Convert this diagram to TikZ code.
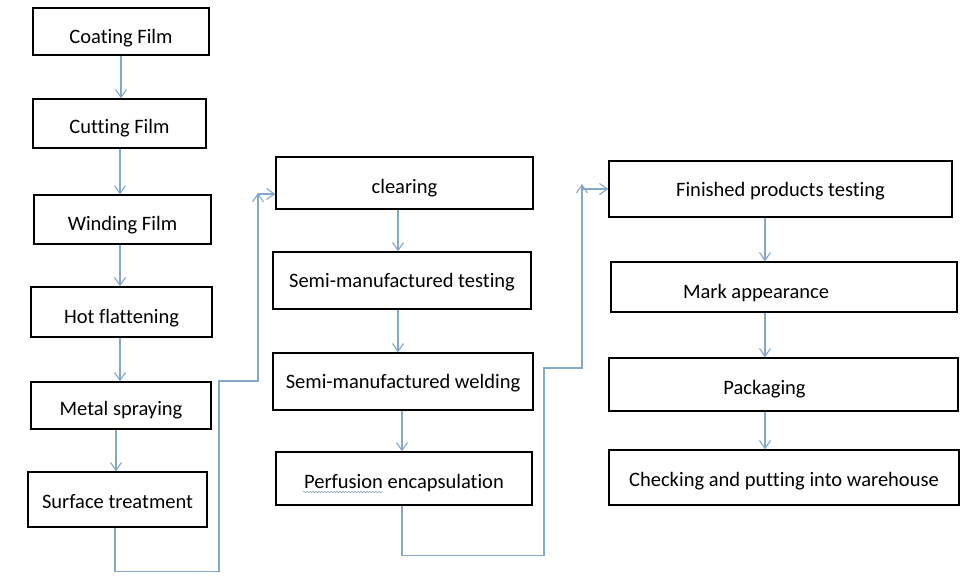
\documentclass[tikz,border=0pt]{standalone}
\usepackage{fontspec}
\setmainfont{Carlito}[Ligatures={NoCommon}]
\usetikzlibrary{arrows.meta,decorations.pathmorphing}
\definecolor{connc}{HTML}{84A7CC}
\definecolor{waveC}{HTML}{8FA0C0}
\begin{document}
\begin{tikzpicture}[x=1pt,y=-1pt,
  box/.style={draw=black,line width=1.2pt,inner sep=0pt,text depth=5pt,font=\fontsize{20.5}{24}\selectfont},
  th/.style={text height=#1pt},
  flow/.style={draw=connc,line width=1.2pt,-{Straight Barb[length=8pt,width=11pt,line width=1.1pt]}},
]
\useasboundingbox (0,0) rectangle (979,584);
% column 1
\node[box,th=28,minimum width=176pt,minimum height=47pt] (A) at (121,31.5) {Coating Film};
\node[box,th=24,minimum width=173pt,minimum height=49pt] (B) at (119.5,123.5) {Cutting Film};
\node[box,th=26,minimum width=177pt,minimum height=49pt] (C) at (122.5,219.5) {Winding Film};
\node[box,th=27,minimum width=181pt,minimum height=50pt] (D) at (121.5,312) {Hot flattening};
\node[box,th=24,minimum width=180pt,minimum height=47pt] (E) at (121,405.5) {Metal spraying};
\node[box,th=22,minimum width=179pt,minimum height=55pt] (F) at (117.5,499.5) {Surface treatment};
% column 2
\node[box,th=25,minimum width=257pt,minimum height=52pt] (G) at (404.5,183) {clearing};
\node[box,th=18,minimum width=258pt,minimum height=57pt] (H) at (402,280.5) {Semi-manufactured testing};
\node[box,th=18,minimum width=260pt,minimum height=57pt] (I) at (403,381.5) {Semi-manufactured welding};
\node[box,th=24,minimum width=256pt,minimum height=53pt] (J) at (404,478.5) {Perfusion encapsulation};
% column 3
\node[box,th=19,minimum width=343pt,minimum height=56pt] (K) at (780.5,189) {Finished products testing};
\node[box,th=27,minimum width=346pt,minimum height=50pt] (L) at (784,287) {Mark appearance\hspace*{56pt}};
\node[box,th=24,minimum width=349pt,minimum height=53pt] (M) at (783.5,384.5) {Packaging\hspace*{38pt}};
\node[box,th=22,minimum width=350pt,minimum height=55pt] (N) at (784,477.5) {Checking and putting into warehouse};

% connector x positions
\coordinate (xa) at (121,0);
\coordinate (xb) at (120,0);
\coordinate (xe) at (116,0);
\coordinate (xf) at (115,0);
\coordinate (xg) at (398,0);
\coordinate (xi) at (402,0);
\coordinate (xk) at (765,0);

\draw[flow] (xa |- A.south) -- (xa |- B.north);
\draw[flow] (xb |- B.south) -- (xb |- C.north);
\draw[flow] (xb |- C.south) -- (xb |- D.north);
\draw[flow] (xb |- D.south) -- (xb |- E.north);
\draw[flow] (xe |- E.south) -- (xe |- F.north);

\draw[flow] (xg |- G.south) -- (xg |- H.north);
\draw[flow] (xg |- H.south) -- (xg |- I.north);
\draw[flow] (xi |- I.south) -- (xi |- J.north);

\draw[flow] (xk |- K.south) -- (xk |- L.north);
\draw[flow] (xk |- L.south) -- (xk |- M.north);
\draw[flow] (xk |- M.south) -- (xk |- N.north);

% elbow connector 1
\coordinate (k1) at (219,381);
\coordinate (e1) at (258,193);
\coordinate (r1) at (258,194);
\draw[flow] (xf |- F.south) -- ++(0,44) -| (k1) -| (e1);
\draw[flow] (r1) -- (r1 -| G.west);

% elbow connector 2
\coordinate (k2) at (544,368);
\coordinate (e2) at (582,184);
\draw[flow] (xi |- J.south) -- ++(0,50) -| (k2) -| (e2);
\draw[flow] (e2 |- K.west) -- (K.west);

% spell-check wavy underline
\draw[waveC,line width=0.6pt,decorate,decoration={snake,amplitude=0.8pt,segment length=3pt}] (303,492) -- (382,492);
\end{tikzpicture}
\end{document}
